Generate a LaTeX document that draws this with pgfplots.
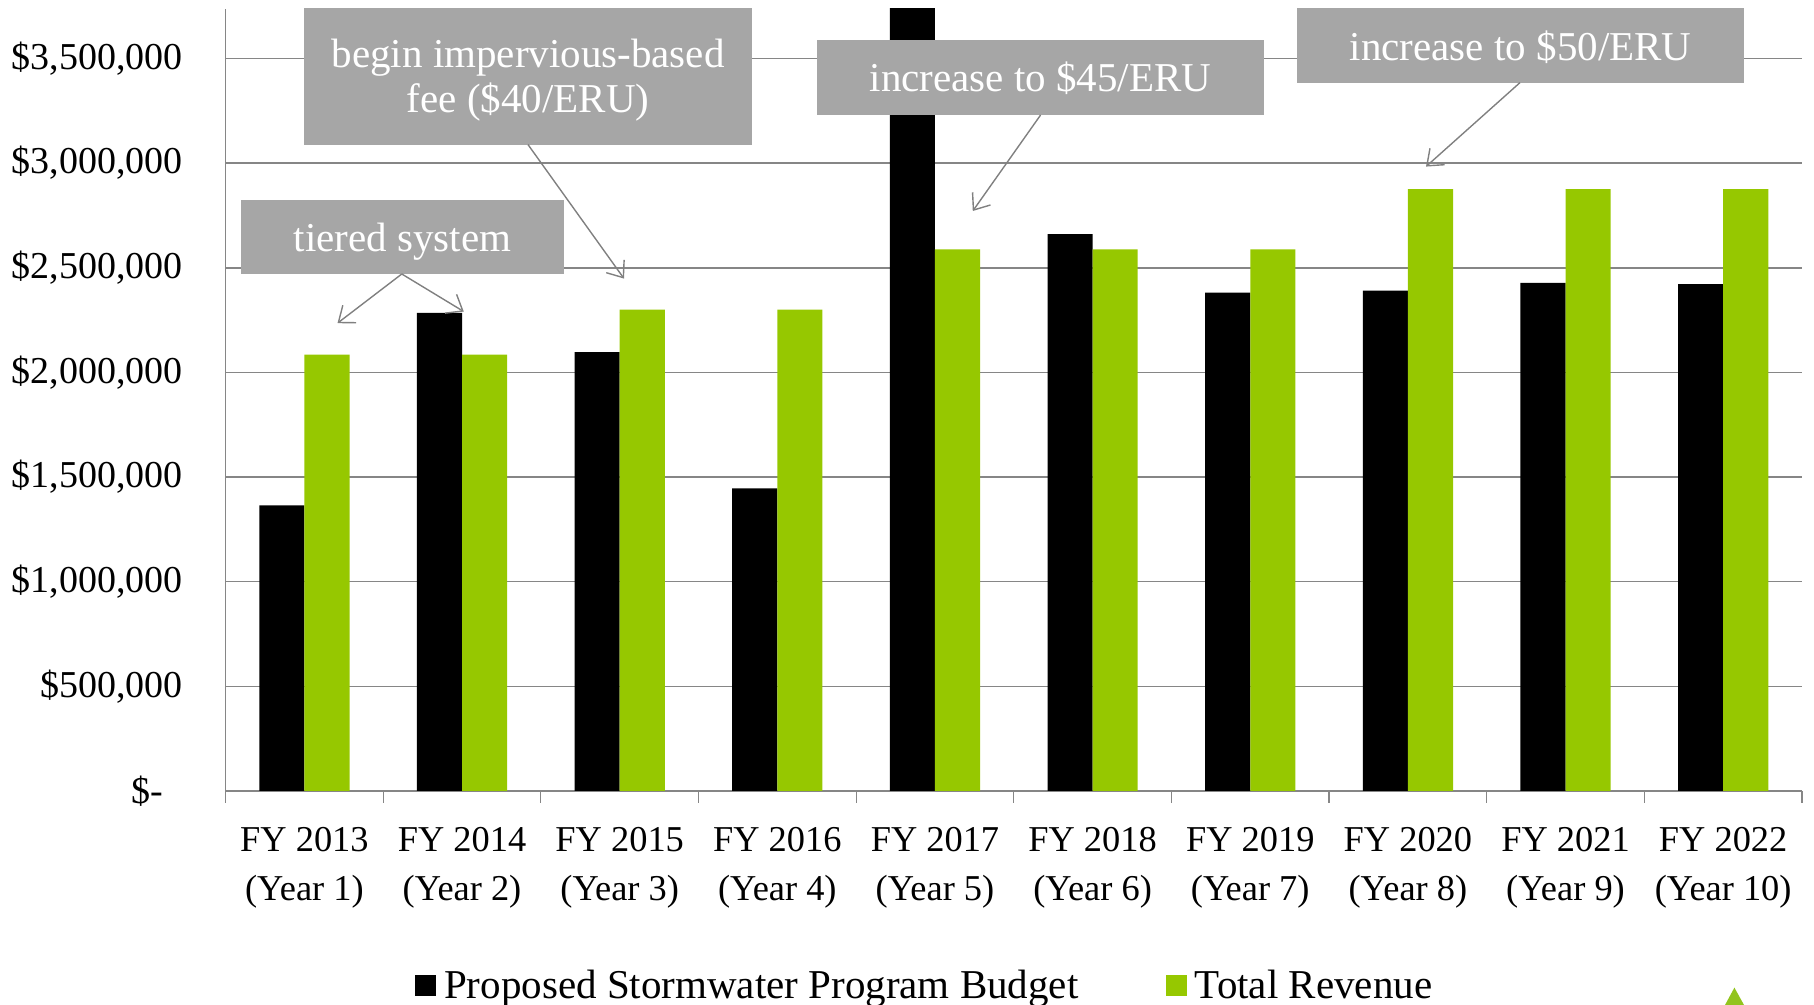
\documentclass[border=0pt]{standalone}
\usepackage{fontspec}
\setmainfont{Liberation Serif}
\usepackage{pgfplots}
\pgfplotsset{compat=1.18}
\usetikzlibrary{arrows.meta}
\definecolor{bargreen}{RGB}{150,200,0}
\definecolor{trigreen}{RGB}{146,196,30}
\definecolor{boxgray}{RGB}{166,166,166}
\definecolor{gridgray}{RGB}{134,134,134}
\definecolor{arrowgray}{RGB}{128,128,128}
\newcommand\bigf{\fontsize{19pt}{22.6pt}\selectfont}
\newcommand\txtf{\fontsize{20.5pt}{22.6pt}\selectfont}
\begin{document}
\begin{tikzpicture}
\path[use as bounding box] (-112.8pt,-107pt) rectangle (794.2pt,395.5pt);
\begin{axis}[
  at={(0pt,0pt)}, anchor=south west,
  scale only axis, width=788.2pt, height=391pt,
  xmin=-0.5, xmax=9.5, ymin=0, ymax=3736000,
  axis x line=bottom, axis y line=left,
  x axis line style={-, draw=gridgray, line width=1.1pt},
  y axis line style={-, draw=gridgray, line width=0.6pt},
  ybar, bar width=22.56pt,
  xtick={0,...,9},
  xticklabels={{FY 2013\\(Year 1)},{FY 2014\\(Year 2)},{FY 2015\\(Year 3)},{FY 2016\\(Year 4)},{FY 2017\\(Year 5)},{FY 2018\\(Year 6)},{FY 2019\\(Year 7)},{FY 2020\\(Year 8)},{FY 2021\\(Year 9)},{FY 2022\\(Year 10)}},
  x tick label style={align=center, font=\fontsize{18.2pt}{24.3pt}\selectfont, inner sep=0pt, anchor=north, yshift=-13.8pt},
  major x tick style={draw=none},
  extra x ticks={-0.5,0.5,...,9.5},
  extra x tick labels={},
  extra x tick style={major tick length=6pt, tick align=outside, major x tick style={draw=gridgray, line width=0.6pt}},
  ytick={0,500000,...,3500000},
  yticklabels={{\$-\rule{9.8pt}{0pt}},{\$500,000},{\$1,000,000},{\$1,500,000},{\$2,000,000},{\$2,500,000},{\$3,000,000},{\$3,500,000}},
  y tick label style={font=\bigf, inner sep=0pt, anchor=east, xshift=-19.1pt},
  ymajorgrids, y grid style={draw=gridgray, line width=0.8pt},
  major y tick style={draw=none},
  clip mode=individual,
  legend columns=2,
  legend style={at={(0.4429,-0.2488)}, anchor=center, draw=none, fill=none, font=\txtf,
    nodes={inner sep=0pt},
    /tikz/every odd column/.append style={column sep=4pt},
    /tikz/every even column/.append style={column sep=43.8pt}},
]
\addplot[fill=black, draw=none, bar shift=-11.28pt,
  legend image code/.code={\fill[black] (0pt,-5.25pt) rectangle (10.4pt,5.25pt);}]
  coordinates {(0,1365000) (1,2284000) (2,2097000) (3,1446000) (4,3900000) (5,2660000) (6,2381000) (7,2390000) (8,2427000) (9,2422000)};
\addlegendentry{Proposed Stormwater Program Budget}
\addplot[fill=bargreen, draw=none, bar shift=11.28pt,
  legend image code/.code={\fill[bargreen] (0pt,-5.25pt) rectangle (10.4pt,5.25pt);}]
  coordinates {(0,2085000) (1,2085000) (2,2300000) (3,2300000) (4,2588000) (5,2588000) (6,2588000) (7,2876000) (8,2876000) (9,2876000)};
\addlegendentry{Total Revenue}
\end{axis}
% annotation boxes
\fill[boxgray] (7.7pt,258.35pt) rectangle (169.2pt,295.55pt);
\node[text=white, font=\txtf, inner sep=0pt] at (88.45pt,274.4pt) {tiered system};
\fill[boxgray] (39.4pt,323.2pt) rectangle (263.2pt,391.5pt);
\node[text=white, font=\txtf, align=center, inner sep=0pt] at (151.3pt,355.3pt) {begin impervious-based\\fee (\$40/ERU)};
\fill[boxgray] (295.6pt,338pt) rectangle (519.4pt,375.5pt);
\node[text=white, font=\txtf, inner sep=0pt] at (407.5pt,356.2pt) {increase to \$45/ERU};
\fill[boxgray] (535.6pt,354.2pt) rectangle (759.4pt,391.5pt);
\node[text=white, font=\txtf, inner sep=0pt] at (647.5pt,371.8pt) {increase to \$50/ERU};
% arrows
\begin{scope}[arrowgray, line width=0.7pt, -{Straight Barb[length=7pt,width=11pt]}]
\draw (88.1pt,258.5pt) -- (55.95pt,233.9pt);
\draw (88.1pt,258.5pt) -- (119.1pt,239.7pt);
\draw (151.2pt,323.2pt) -- (199.2pt,256.2pt);
\draw (407.5pt,338pt) -- (373.6pt,290pt);
\draw (647.2pt,354.2pt) -- (600.2pt,312.2pt);
\end{scope}
\fill[trigreen] (754.4pt,-98.3pt) -- (749.7pt,-107pt) -- (759.2pt,-107pt) -- cycle;
\end{tikzpicture}
\end{document}
